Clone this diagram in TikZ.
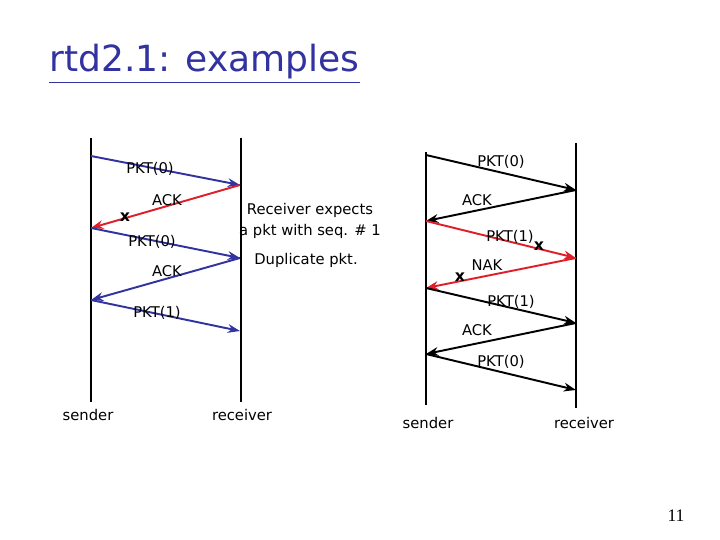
\documentclass[tikz,border=0pt]{standalone}
\usepackage{fontspec}
\setmainfont{DejaVu Sans}
\newfontfamily\pagefont{Liberation Serif}
\usepackage{tikz}
\usetikzlibrary{arrows.meta}

\definecolor{slideblue}{RGB}{50,50,160}
\definecolor{lossred}{RGB}{222,30,40}

\tikzset{
  timeline/.style={line width=0.6pt},
  msg/.style={line width=1.1pt,-{Stealth[length=7pt,width=5pt]}},
  lbl/.style={font=\fontsize{8.4}{10}\selectfont,inner sep=0pt},
  lost/.style={font=\fontsize{9}{10}\selectfont\bfseries,inner sep=0pt}
}

\begin{document}
\begin{tikzpicture}[x=0.02cm,y=-0.02cm]
\useasboundingbox (0,0) rectangle (720,540);

%Title
\node[anchor=base west,text=slideblue,inner sep=0pt,font=\fontsize{20.5}{24}\selectfont] (title) at (49,72) {\underline{rtd2.1: examples}};

%Time lines, left example
\coordinate (LStop) at (91,138);
\coordinate (LSbot) at (91,402);
\coordinate (LRtop) at (241,138);
\coordinate (LRbot) at (241,402);
%Time lines, right example
\coordinate (RStop) at (426,152);
\coordinate (RSbot) at (426,405);
\coordinate (RRtop) at (576,143);
\coordinate (RRbot) at (576,408);

\draw[timeline] (LStop) -- (LSbot);
\draw[timeline] (LRtop) -- (LRbot);
\draw[timeline] (RStop) -- (RSbot);
\draw[timeline] (RRtop) -- (RRbot);

\node[lbl] (lsender) at (88,415) {sender};
\node[lbl] (lreceiver) at (242,415) {receiver};
\node[lbl] (rsender) at (428,423) {sender};
\node[lbl] (rreceiver) at (584,423) {receiver};

%Send and arrive points, left example
\coordinate (ls1) at (91,156);
\coordinate (lr1) at (240,185);
\coordinate (ls2) at (91,228);
\coordinate (lr2) at (240,258);
\coordinate (ls3) at (91,300);
\coordinate (lr3) at (240,331);

\draw[msg,slideblue] (ls1) -- (lr1);
\draw[msg,lossred] (lr1) -- (ls2);
\draw[msg,slideblue] (ls2) -- (lr2);
\draw[msg,slideblue] (lr2) -- (ls3);
\draw[msg,slideblue] (ls3) -- (lr3);

\node[lbl] (lpkt0a) at (150,169) {PKT(0)};
\node[lbl] (lacka) at (167,200) {ACK};
\node[lost] (lxa) at (125,217) {x};
\node[lbl] (lpkt0b) at (152,242) {PKT(0)};
\node[lbl] (lackb) at (167,271) {ACK};
\node[lbl] (lpkt1) at (157,313) {PKT(1)};

\node[lbl,align=center] (expects) at (310,221) {Receiver expects\\[2pt]a pkt with seq. \# 1};
\node[lbl] (dup) at (306,260) {Duplicate pkt.};

%Send and arrive points, right example
\coordinate (rs1) at (426,155);
\coordinate (rr1) at (576,190);
\coordinate (rs2) at (426,221);
\coordinate (rr2) at (576,258);
\coordinate (rs3) at (426,288);
\coordinate (rr3) at (576,323);
\coordinate (rs4) at (426,354);
\coordinate (rr4) at (576,390);

\draw[msg] (rs1) -- (rr1);
\draw[msg] (rr1) -- (rs2);
\draw[msg,lossred] (rs2) -- (rr2);
\draw[msg,lossred] (rr2) -- (rs3);
\draw[msg] (rs3) -- (rr3);
\draw[msg] (rr3) -- (rs4);
\draw[msg] (rs4) -- (rr4);

\node[lbl] (rpkt0a) at (501,162) {PKT(0)};
\node[lbl] (racka) at (477,200) {ACK};
\node[lbl] (rpkt1a) at (510,237) {PKT(1)};
\node[lost] (rxa) at (539,246) {x};
\node[lbl] (rnak) at (487,265) {NAK};
\node[lost] (rxb) at (460,277) {x};
\node[lbl] (rpkt1b) at (511,302) {PKT(1)};
\node[lbl] (rackb) at (477,330) {ACK};
\node[lbl] (rpkt0b) at (501,362) {PKT(0)};

%Slide number
\node[font=\pagefont\fontsize{10}{12}\selectfont,inner sep=0pt] (pageno) at (676,516) {11};

\end{tikzpicture}
\end{document}
